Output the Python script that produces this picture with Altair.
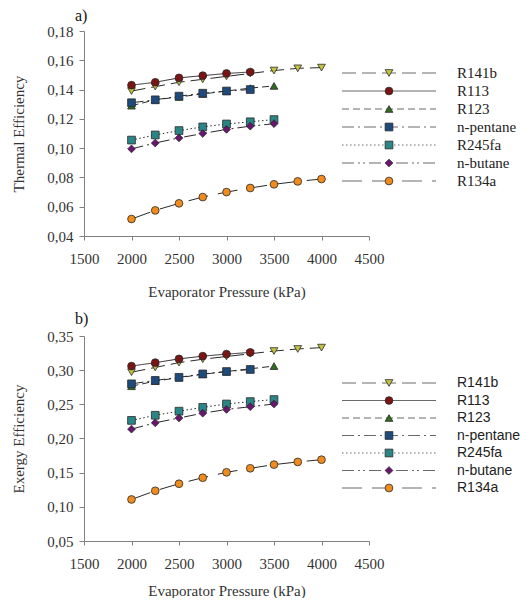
import altair as alt
import pandas as pd

series = ["R141b", "R113", "R123", "n-pentane", "R245fa", "n-butane", "R134a"]
pressure = [2000, 2250, 2500, 2750, 3000, 3250, 3500, 3750, 4000]

thermal = {
    "R141b": [0.139, 0.142, 0.145, 0.147, 0.149, 0.151, 0.153, 0.1545, 0.155],
    "R113": [0.143, 0.145, 0.148, 0.1495, 0.151, 0.152],
    "R123": [0.129, 0.133, 0.135, 0.137, 0.139, 0.141, 0.1425],
    "n-pentane": [0.131, 0.133, 0.1355, 0.1375, 0.139, 0.140],
    "R245fa": [0.1055, 0.109, 0.112, 0.1145, 0.1165, 0.118, 0.1195],
    "n-butane": [0.0995, 0.1035, 0.107, 0.110, 0.1128, 0.115, 0.1167],
    "R134a": [0.0516, 0.0575, 0.0623, 0.0666, 0.070, 0.0728, 0.0753, 0.0773, 0.0789],
}

exergy = {
    "R141b": [0.297, 0.304, 0.311, 0.316, 0.320, 0.324, 0.328, 0.331, 0.333],
    "R113": [0.306, 0.311, 0.3165, 0.3205, 0.3235, 0.326],
    "R123": [0.2765, 0.284, 0.289, 0.294, 0.298, 0.302, 0.306],
    "n-pentane": [0.280, 0.285, 0.2895, 0.2945, 0.298, 0.301],
    "R245fa": [0.2265, 0.234, 0.240, 0.2455, 0.2505, 0.254, 0.257],
    "n-butane": [0.2137, 0.223, 0.230, 0.237, 0.2425, 0.2465, 0.2505],
    "R134a": [0.1108, 0.1235, 0.1338, 0.1426, 0.1505, 0.1564, 0.1618, 0.1657, 0.169],
}

colors = ["#C4C23C", "#7B1414", "#2E6E1E", "#1F4A7C", "#2A8686", "#6A1670", "#F08C1E"]
shapes = ["triangle-down", "circle", "triangle-up", "square", "square", "diamond", "circle"]
dashes = [[14, 6], [1, 0], [7, 4], [12, 4, 2, 4], [1.5, 2.5], [12, 4, 2, 3, 2, 4], [20, 10]]

x_ticks = [1500, 2000, 2500, 3000, 3500, 4000, 4500]
y_ticks_a = [0.04, 0.06, 0.08, 0.10, 0.12, 0.14, 0.16, 0.18]
y_ticks_b = [0.05, 0.10, 0.15, 0.20, 0.25, 0.30, 0.35]


def long_df(d):
    rows = []
    for s in series:
        for p, v in zip(pressure, d[s]):
            rows.append({"series": s, "pressure": p, "eff": v})
    return pd.DataFrame(rows)


leg_line_df = pd.DataFrame(
    [{"series": s, "row": i, "pos": p} for i, s in enumerate(series) for p in (0, 1)]
)
leg_pt_df = pd.DataFrame([{"series": s, "row": i, "pos": 0.5} for i, s in enumerate(series)])
leg_txt_df = pd.DataFrame([{"series": s, "row": i, "pos": 1} for i, s in enumerate(series)])

dash_scale = alt.Scale(domain=series, range=dashes)
shape_scale = alt.Scale(domain=series, range=shapes)
fill_scale = alt.Scale(domain=series, range=colors)

SERIF = "Liberation Serif, Times New Roman, serif"
SANS = "Liberation Sans, Arial, sans-serif"


def panel(d, ydom, yticks, ytitle, tag, legend_font, legend_size, leg_range_y,
          title_offset, xtitle_pad):
    df = long_df(d)
    x = alt.X(
        "pressure:Q",
        scale=alt.Scale(domain=[1500, 4500]),
        axis=alt.Axis(
            values=x_ticks, format="d", title="Evaporator Pressure (kPa)",
            labelPadding=11, tickSize=4, titlePadding=xtitle_pad, labelFlush=False,
        ),
    )
    y = alt.Y(
        "eff:Q",
        scale=alt.Scale(domain=ydom),
        axis=alt.Axis(
            values=yticks, title=ytitle,
            labelExpr="replace(format(datum.value, '.2f'), '.', ',')",
            tickSize=5, labelPadding=6, titlePadding=20, labelFlush=False,
        ),
    )
    lines = alt.Chart(df).mark_line(color="#2a2a2a", strokeWidth=1).encode(
        x=x, y=y,
        strokeDash=alt.StrokeDash("series:N", scale=dash_scale, legend=None),
        detail="series:N",
    )
    pts = alt.Chart(df).mark_point(
        filled=True, size=60, stroke="#2a2a2a", strokeWidth=0.8, opacity=1
    ).encode(
        x=x, y=y,
        shape=alt.Shape("series:N", scale=shape_scale, legend=None),
        fill=alt.Fill("series:N", scale=fill_scale, legend=None),
    )
    lx = alt.X("pos:Q", scale=alt.Scale(domain=[0, 1], range=[258, 352]), axis=None)
    ly = alt.Y("row:Q", scale=alt.Scale(domain=[0, 6], range=leg_range_y), axis=None)
    leg_lines = alt.Chart(leg_line_df).mark_line(color="#6a6a6a", strokeWidth=1.2).encode(
        x=lx, y=ly,
        strokeDash=alt.StrokeDash("series:N", scale=dash_scale, legend=None),
        detail="series:N",
    )
    leg_pts = alt.Chart(leg_pt_df).mark_point(
        filled=True, size=60, stroke="#2a2a2a", strokeWidth=0.8, opacity=1
    ).encode(
        x=lx, y=ly,
        shape=alt.Shape("series:N", scale=shape_scale, legend=None),
        fill=alt.Fill("series:N", scale=fill_scale, legend=None),
    )
    leg_txt = alt.Chart(leg_txt_df).mark_text(
        align="left", baseline="middle", dx=21, font=legend_font, fontSize=legend_size,
        color="#222",
    ).encode(x=lx, y=ly, text="series:N")
    plot = alt.layer(lines, pts)
    legend = alt.layer(leg_lines, leg_pts, leg_txt)
    return alt.layer(plot, legend).resolve_scale(x="independent", y="independent").properties(
        width=285, height=205,
        title=alt.TitleParams(
            tag, anchor="start", frame="group", dx=-9, fontSize=16, font=SERIF,
            fontWeight="normal", color="#111", offset=title_offset,
        ),
    )


top = panel(thermal, [0.04, 0.18], y_ticks_a, "Thermal Efficiency", "a)", SERIF, 15,
            [42, 150], 0, 18)
bottom = panel(exergy, [0.05, 0.35], y_ticks_b, "Exergy Efficiency", "b)", SANS, 14,
               [47, 152], 2, 12)

chart = alt.vconcat(top, bottom, spacing=12).properties(
    padding={"left": 3, "top": 0, "right": 0, "bottom": 0}
).configure_view(stroke=None).configure_axis(
    grid=False,
    domainColor="#808080",
    tickColor="#808080",
    labelFont=SERIF,
    labelFontSize=15,
    labelColor="#333",
    titleFont=SERIF,
    titleFontSize=15,
    titleFontWeight="normal",
    titleColor="#333",
)

chart.save("out.html", embed_options={"renderer": "svg", "actions": False})
